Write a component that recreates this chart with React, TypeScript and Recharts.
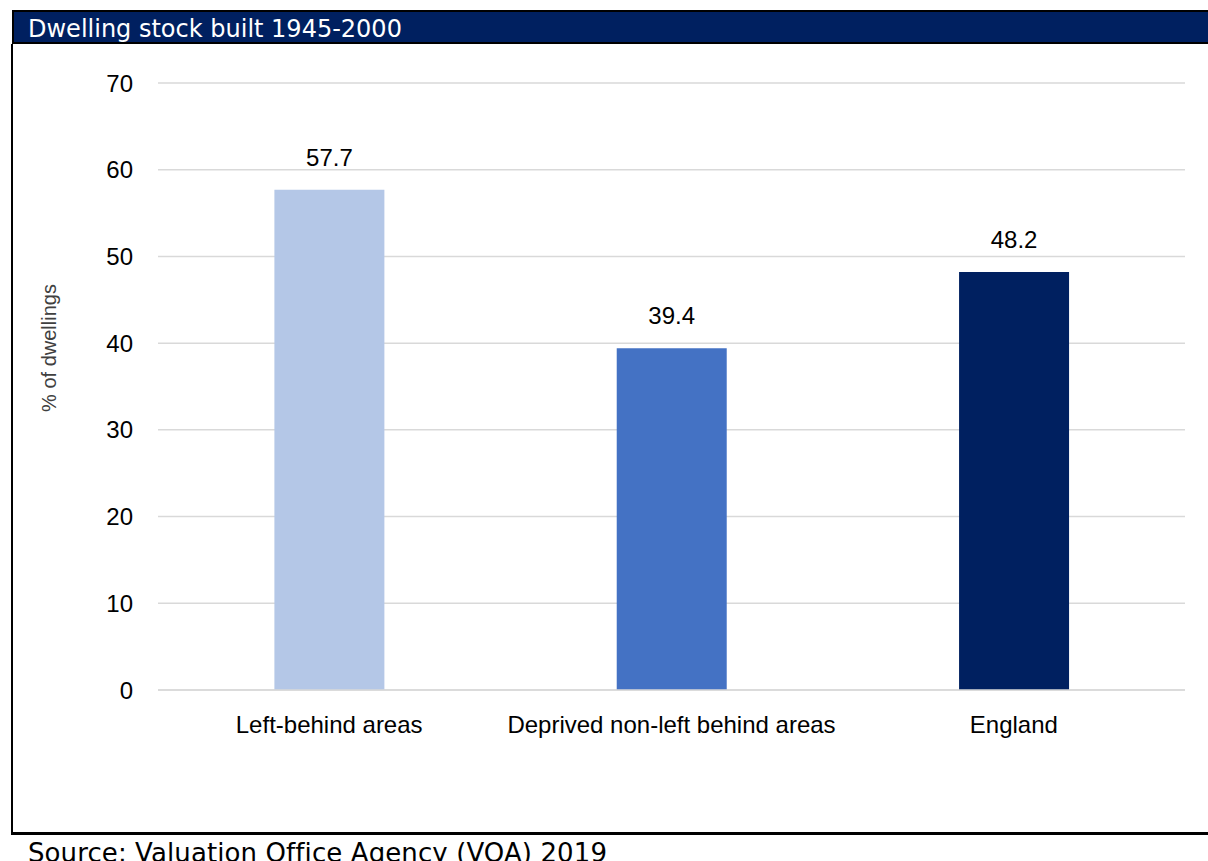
import React from 'react';
import { BarChart, Bar, XAxis, YAxis, CartesianGrid, Cell, LabelList } from 'recharts';

const areas = ['Left-behind areas', 'Deprived non-left behind areas', 'England'];
const shareBuilt = [57.7, 39.4, 48.2];
const barColors = ['#B4C7E7', '#4472C4', '#002060'];
const yTicks = [0, 10, 20, 30, 40, 50, 60, 70];

const data = areas.map((name, i) => ({ name, value: shareBuilt[i] }));

const axisFont = '"Liberation Sans", Arial, sans-serif';
const boxFont = '"DejaVu Sans", "Open Sans", sans-serif';

const YTitle = () => (
  <text
    x={49}
    y={298}
    transform="rotate(-90 49 298)"
    textAnchor="middle"
    dominantBaseline="central"
    fontSize={20}
    fontFamily={axisFont}
    fill="#404040"
  >
    % of dwellings
  </text>
);

export default function App() {
  return (
    <div
      style={{
        position: 'absolute',
        left: 0,
        top: 0,
        width: 1208,
        height: 861,
        overflow: 'hidden',
        background: '#fff',
      }}
    >
      {/* header bar */}
      <div
        style={{
          position: 'absolute',
          left: 12,
          top: 10,
          width: 1196,
          height: 34,
          background: '#002060',
          borderTop: '2px solid #000',
          borderBottom: '2px solid #000',
          borderLeft: '2px solid #000',
          boxSizing: 'border-box',
        }}
      />
      <div
        style={{
          position: 'absolute',
          left: 28,
          top: 17,
          color: '#fff',
          fontFamily: boxFont,
          fontSize: 24,
          lineHeight: '24px',
          whiteSpace: 'nowrap',
        }}
      >
        Dwelling stock built 1945-2000
      </div>

      {/* chart box borders */}
      <div style={{ position: 'absolute', left: 11, top: 44, width: 2, height: 791, background: '#000' }} />
      <div style={{ position: 'absolute', left: 11, top: 832, width: 1197, height: 3, background: '#000' }} />

      <div style={{ position: 'absolute', left: 0, top: 50 }}>
        <BarChart
          width={1208}
          height={740}
          data={data}
          margin={{ top: 33, right: 23, bottom: 0, left: 0 }}
          barCategoryGap="34%"
        >
          <CartesianGrid vertical={false} stroke="#d9d9d9" strokeWidth={1.5} />
          <XAxis
            dataKey="name"
            height={100}
            axisLine={{ stroke: '#d9d9d9', strokeWidth: 1.5 }}
            tickLine={false}
            tickMargin={20}
            tick={{ fontSize: 24, fontFamily: axisFont, fill: '#000' }}
            interval={0}
          />
          <YAxis
            width={158}
            domain={[0, 70]}
            ticks={yTicks}
            axisLine={false}
            tickLine={false}
            tickMargin={19}
            tick={{ fontSize: 24, fontFamily: axisFont, fill: '#000' }}
            label={{ content: () => <YTitle /> }}
          />
          <Bar dataKey="value" isAnimationActive={false}>
            {data.map((d, i) => (
              <Cell key={d.name} fill={barColors[i]} />
            ))}
            <LabelList
              dataKey="value"
              position="top"
              offset={24}
              fontSize={24}
              fontFamily={axisFont}
              fill="#000"
            />
          </Bar>
        </BarChart>
      </div>

      {/* source note */}
      <div
        style={{
          position: 'absolute',
          left: 28,
          top: 840,
          fontFamily: boxFont,
          fontSize: 26,
          lineHeight: '26px',
          letterSpacing: 0.1,
          color: '#000',
          whiteSpace: 'nowrap',
        }}
      >
        Source: Valuation Office Agency (VOA) 2019
      </div>
    </div>
  );
}
